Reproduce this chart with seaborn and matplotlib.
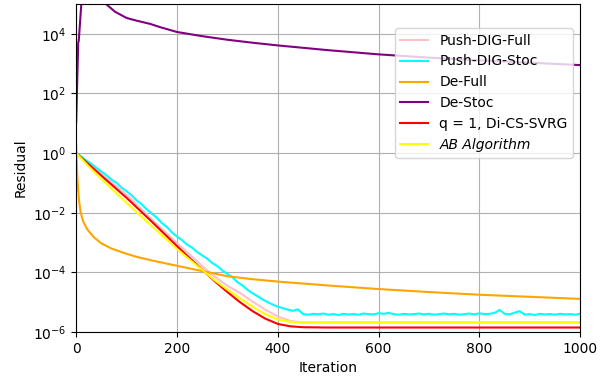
import numpy as np
import pandas as pd
import matplotlib
matplotlib.use("Agg")
import matplotlib.pyplot as plt
import seaborn as sns
from matplotlib.ticker import NullLocator

# ---- data (log10 of residual) ----
pink_iter = [0, 25, 50, 75, 100, 125, 150, 175, 200, 225, 262, 275, 300, 325, 350, 375, 400, 425, 450, 600, 800, 1000]
pink_log = [0.0, -0.35, -0.70, -1.05, -1.40, -1.80, -2.22, -2.62, -3.02, -3.40, -3.97, -4.15, -4.45, -4.69, -4.98,
            -5.25, -5.48, -5.63, -5.68, -5.68, -5.68, -5.68]

cyan_iter = list(range(0, 1001, 10))
cyan_log = [0.00, -0.12, -0.25, -0.36, -0.50, -0.62, -0.74, -0.89, -1.00, -1.16, -1.28, -1.42, -1.59, -1.72,
            -1.89, -2.03, -2.17, -2.35, -2.48, -2.66, -2.80, -2.92, -3.07, -3.17, -3.32, -3.43, -3.54, -3.69,
            -3.79, -3.94, -4.05, -4.17, -4.33, -4.44, -4.59, -4.70, -4.80, -4.91, -5.00, -5.08, -5.15, -5.20,
            -5.25, -5.29, -5.24, -5.40, -5.42, -5.39, -5.41, -5.38, -5.42, -5.40, -5.43, -5.39, -5.41, -5.40,
            -5.42, -5.38, -5.40, -5.41, -5.37, -5.39, -5.36, -5.40, -5.42, -5.39, -5.41, -5.40, -5.38, -5.41,
            -5.39, -5.42, -5.40, -5.38, -5.41, -5.39, -5.42, -5.40, -5.38, -5.41, -5.37, -5.40, -5.39, -5.36,
            -5.26, -5.39, -5.41, -5.35, -5.30, -5.42, -5.40, -5.43, -5.39, -5.41, -5.40, -5.42, -5.39, -5.41,
            -5.40, -5.42, -5.39]

orange_iter = [0, 1, 2, 3, 4, 6, 9, 14, 22, 35, 50, 70, 95, 120, 150, 200, 254, 300, 350, 400, 500, 600, 700,
               800, 900, 1000]
orange_log = [0.22, -0.30, -0.70, -1.00, -1.25, -1.65, -2.00, -2.30, -2.56, -2.82, -3.03, -3.20, -3.35, -3.48,
              -3.60, -3.78, -3.97, -4.13, -4.23, -4.31, -4.44, -4.56, -4.66, -4.75, -4.82, -4.89]

purple_iter = [0, 4, 5, 11, 20, 35, 50, 59, 77, 100, 120, 147, 167, 200, 250, 300, 350, 400, 500, 600, 700, 800,
               900, 1000]
purple_log = [1.04, 3.72, 3.75, 5.20, 5.60, 5.50, 5.20, 5.00, 4.74, 4.53, 4.44, 4.33, 4.22, 4.06, 3.92, 3.80,
              3.70, 3.61, 3.45, 3.31, 3.20, 3.11, 3.03, 2.95]

red_iter = [0, 25, 50, 75, 100, 125, 150, 175, 200, 225, 254, 275, 300, 325, 350, 375, 400, 425, 450, 500, 700, 1000]
red_log = [0.0, -0.38, -0.76, -1.13, -1.50, -1.90, -2.30, -2.71, -3.12, -3.52, -3.97, -4.30, -4.66, -5.00, -5.30,
           -5.55, -5.73, -5.81, -5.84, -5.85, -5.85, -5.85]

yellow_iter = [0, 25, 50, 75, 100, 125, 150, 175, 200, 225, 254, 275, 300, 325, 350, 375, 400, 425, 450, 600, 800, 1000]
yellow_log = [0.0, -0.45, -0.87, -1.27, -1.67, -2.06, -2.45, -2.83, -3.22, -3.57, -3.97, -4.27, -4.58, -4.87,
              -5.15, -5.40, -5.58, -5.66, -5.68, -5.68, -5.68, -5.68]

labels = ["Push-DIG-Full", "Push-DIG-Stoc", "De-Full", "De-Stoc", "q = 1, Di-CS-SVRG", "AB Algorithm"]
colors = ["pink", "cyan", "orange", "purple", "red", "yellow"]
xticks = [0, 200, 400, 600, 800, 1000]
yticks = [1e-6, 1e-4, 1e-2, 1e0, 1e2, 1e4]

series = [(pink_iter, pink_log), (cyan_iter, cyan_log), (orange_iter, orange_log),
          (purple_iter, purple_log), (red_iter, red_log), (yellow_iter, yellow_log)]

fig = plt.figure(figsize=(6.0, 3.81), dpi=100)
ax = fig.add_axes([0.127, 0.1286, 0.84, 0.861])

for (it, lg), lab, col in zip(series, labels, colors):
    df = pd.DataFrame({"Iteration": it, "Residual": np.power(10.0, lg)})
    sns.lineplot(data=df, x="Iteration", y="Residual", color=col, label=lab, linewidth=1.5, ax=ax)

ax.set_yscale("log")
ax.set_xlim(0, 1000)
ax.set_ylim(1e-6, 1e5)
ax.set_xticks(xticks)
ax.set_yticks(yticks)
ax.yaxis.set_minor_locator(NullLocator())
ax.grid(True, color="#b0b0b0", linewidth=0.8)
ax.set_axisbelow(True)
ax.set_xlabel("Iteration", fontsize=10)
ax.set_ylabel("Residual", fontsize=10)
ax.tick_params(labelsize=10)

leg = ax.legend(loc="upper right", bbox_to_anchor=(1.0, 0.948), fontsize=10)
leg.get_texts()[5].set_style("italic")

fig.savefig("out.png", dpi=100)
